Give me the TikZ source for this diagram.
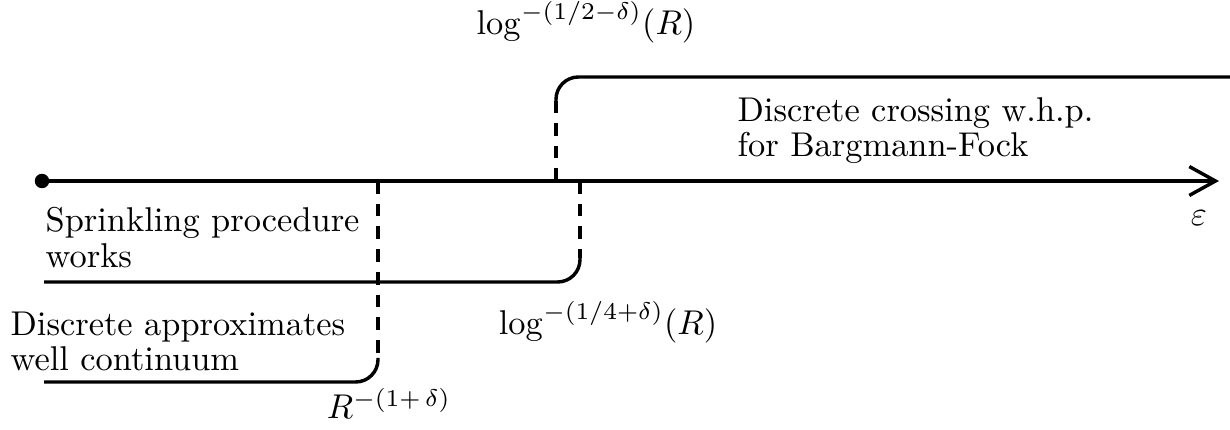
\documentclass[tikz,border=0pt]{standalone}
\usetikzlibrary{arrows.meta}
\begin{document}
\begin{tikzpicture}[x=0.2907pt,y=-0.2907pt,
  line/.style={line width=1pt},
  dsh/.style={line width=1pt,dash pattern=on 3.7pt off 2.9pt},
  stepline/.style={line width=1pt,rounded corners=6.5pt},
  lbl/.style={inner sep=0pt,anchor=base west,align=left},
  mlbl/.style={inner sep=0pt,anchor=base}]
\useasboundingbox (0,0) rectangle (1230,430);
% axis
\node[circle,fill,inner sep=0pt,minimum size=4.2pt] (dot) at (42,181) {};
\coordinate (end) at (1219,181);
\draw[line,-{Straight Barb[length=7.6pt,width=8.4pt,line width=1pt]}] (dot.center) -- (end);
% top step
\coordinate (t0) at (556,181);
\coordinate (t1) at (556,101);
\coordinate (t2) at (556,77);
\coordinate (t3) at (1232,77);
\draw[dsh] (t0) -- (t1);
\draw[stepline] (t1) -- (t2) -- (t3);
% middle step
\coordinate (m0) at (580,181);
\coordinate (m1) at (580,258);
\coordinate (m2) at (580,282);
\coordinate (m3) at (44,282);
\draw[dsh] (m0) -- (m1);
\draw[stepline] (m1) -- (m2) -- (m3);
% lower step
\coordinate (b0) at (378,181);
\coordinate (b1) at (378,358);
\coordinate (b2) at (378,382);
\coordinate (b3) at (44,382);
\draw[dsh] (b0) -- (b1);
\draw[stepline] (b1) -- (b2) -- (b3);
% labels
\node[mlbl] (lt) at (586,35) {$\log^{-(1/2-\delta)}(R)$};
\node[mlbl] (lm) at (608,335) {$\log^{-(1/4+\delta)}(R)$};
\node[mlbl] (lb) at (389,419) {$R^{-(1+\,\delta)}$};
\node[mlbl] (eps) at (1199,226) {$\varepsilon$};
\node[lbl,font=\fontsize{10pt}{9pt}\selectfont] (t) at (737,156.7) {Discrete crossing w.h.p.\\for Bargmann-Fock};
\node[lbl,font=\fontsize{10pt}{10.5pt}\selectfont] (s) at (45,268) {Sprinkling procedure\\works};
\node[lbl,font=\fontsize{10pt}{10.4pt}\selectfont] (d) at (10,371) {Discrete approximates\\well continuum};
\end{tikzpicture}
\end{document}
